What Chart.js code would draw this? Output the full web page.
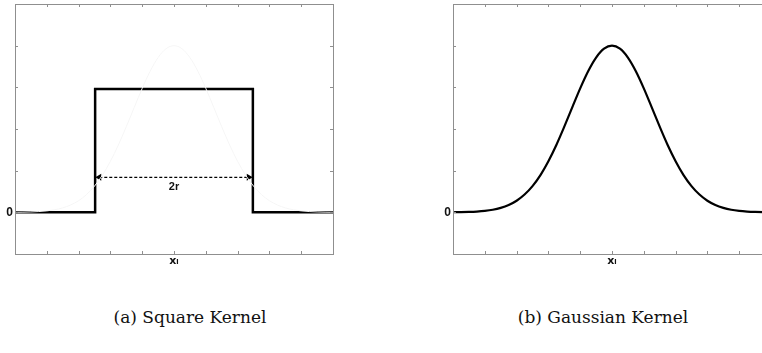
<!DOCTYPE html>
<html>
<head>
<meta charset="utf-8">
<script src="https://cdn.jsdelivr.net/npm/chart.js@4"></script>
<style>
  html, body { margin: 0; padding: 0; background: #fff; }
  body { width: 762px; height: 353px; position: relative; overflow: hidden; }
  .panel { position: absolute; top: 0; }
  .caption {
    position: absolute; top: 307px; width: 300px; text-align: center;
    font-family: "DejaVu Serif", "Liberation Serif", serif; font-size: 17px; color: #111;
  }
</style>
</head>
<body>
<div class="panel" style="left:0px"><canvas id="square" width="345" height="280"></canvas></div>
<div class="panel" style="left:440px"><canvas id="gauss" width="345" height="280"></canvas></div>
<div class="caption" style="left:40px">(a) Square Kernel</div>
<div class="caption" style="left:453px">(b) Gaussian Kernel</div>
<script>
// axis ticks (both panels)
const xTicks = [-5, -4, -3, -2, -1, 0, 1, 2, 3, 4, 5];
const yTicks = [-1, 0, 1, 2, 3, 4, 5];

// square kernel, width 2r
const squareX = [-5, -2.48, -2.48, 2.48, 2.48, 5];
const squareY = [0, 0, 2.96, 2.96, 0, 0];

// arrow marking 2r
const arrowX = [-2.35, 2.35];
const arrowY = [0.84, 0.84];

// gaussian kernel
const gaussX = [-5, -4.75, -4.5, -4.25, -4, -3.75, -3.5, -3.25, -3, -2.75, -2.5, -2.25, -2, -1.75, -1.5, -1.25, -1, -0.75, -0.5, -0.25,
  0, 0.25, 0.5, 0.75, 1, 1.25, 1.5, 1.75, 2, 2.25, 2.5, 2.75, 3, 3.25, 3.5, 3.75, 4, 4.25, 4.5, 4.75, 5];
const gaussY = [0.002, 0.005, 0.01, 0.019, 0.035, 0.062, 0.107, 0.176, 0.279, 0.427, 0.63, 0.894, 1.225, 1.616, 2.056, 2.519, 2.976, 3.387, 3.715, 3.927,
  4, 3.927, 3.715, 3.387, 2.976, 2.519, 2.056, 1.616, 1.225, 0.894, 0.63, 0.427, 0.279, 0.176, 0.107, 0.062, 0.035, 0.019, 0.01, 0.005, 0.002];

function pts(xs, ys) {
  return xs.map((x, i) => ({ x: x, y: ys[i] }));
}

const frameColor = '#8f8f8f';
const tickLen = 3;

const framePlugin = {
  id: 'frame',
  afterDraw(chart) {
    const ctx = chart.ctx;
    const a = chart.chartArea;
    const xs = chart.scales.x, ys = chart.scales.y;
    ctx.save();
    ctx.strokeStyle = frameColor;
    ctx.lineWidth = 1;
    ctx.strokeRect(Math.round(a.left) + 0.5, Math.round(a.top) + 0.5, Math.round(a.right - a.left), Math.round(a.bottom - a.top));
    ctx.beginPath();
    xTicks.forEach(v => {
      const px = Math.round(xs.getPixelForValue(v)) + 0.5;
      ctx.moveTo(px, a.top); ctx.lineTo(px, a.top + tickLen);
      ctx.moveTo(px, a.bottom); ctx.lineTo(px, a.bottom - tickLen);
    });
    yTicks.forEach(v => {
      const py = Math.round(ys.getPixelForValue(v)) + 0.5;
      ctx.moveTo(a.left, py); ctx.lineTo(a.left + tickLen, py);
      ctx.moveTo(a.right, py); ctx.lineTo(a.right - tickLen, py);
    });
    ctx.stroke();

    // "2r" label under the arrow
    if (chart.canvas.id === 'square') {
      ctx.fillStyle = '#111';
      ctx.font = 'bold 11px "Liberation Sans", Arial, sans-serif';
      ctx.textAlign = 'center';
      ctx.textBaseline = 'middle';
      ctx.fillText('2r', xs.getPixelForValue(0), ys.getPixelForValue(arrowY[0]) + 10);
    }
    ctx.restore();
  }
};

function noPad(s) {
  s.paddingTop = 0; s.paddingBottom = 0; s.paddingLeft = 0; s.paddingRight = 0;
}

function makeScales(yWidth) {
  return {
    x: {
      type: 'linear', min: -5, max: 5,
      grid: { display: false, drawTicks: false }, border: { display: false },
      afterBuildTicks(s) { s.ticks = xTicks.map(v => ({ value: v })); },
      afterFit(s) { s.height = 14; noPad(s); },
      ticks: {
        autoSkip: false, maxRotation: 0, padding: 1, color: '#111',
        font: { family: '"DejaVu Sans", sans-serif', size: 11, weight: 'bold' },
        callback: v => (v === 0 ? 'xᵢ' : '')
      }
    },
    y: {
      type: 'linear', min: -1, max: 5,
      grid: { display: false, drawTicks: false }, border: { display: false },
      afterBuildTicks(s) { s.ticks = yTicks.map(v => ({ value: v })); },
      afterFit(s) { s.width = yWidth; noPad(s); },
      ticks: {
        padding: 2, color: '#111',
        font: { family: '"Liberation Sans", Arial, sans-serif', size: 12, weight: 'bold' },
        callback: v => (v === 0 ? '0' : '')
      }
    }
  };
}

const common = {
  responsive: false,
  animation: false,
  devicePixelRatio: 1,
  plugins: { legend: { display: false }, tooltip: { enabled: false } },
  elements: { point: { radius: 0 } }
};

new Chart(document.getElementById('square'), {
  type: 'line',
  data: {
    datasets: [
      { data: pts(gaussX, gaussY), borderColor: '#f6f6f6', borderWidth: 1, tension: 0.4, cubicInterpolationMode: 'monotone' },
      { data: pts(squareX, squareY), borderColor: '#000', borderWidth: 2.5, tension: 0, borderJoinStyle: 'miter' },
      {
        data: pts(arrowX, arrowY), borderColor: '#000', borderWidth: 1.2, borderDash: [3, 2],
        pointStyle: 'triangle', pointRadius: 4, pointRotation: [-90, 90],
        pointBackgroundColor: '#000', pointBorderWidth: 0
      }
    ]
  },
  options: Object.assign({}, common, {
    layout: { padding: { top: 4, right: 12, left: 0, bottom: 12 } },
    scales: makeScales(15)
  }),
  plugins: [framePlugin]
});

new Chart(document.getElementById('gauss'), {
  type: 'line',
  data: {
    datasets: [
      { data: pts(gaussX, gaussY), borderColor: '#000', borderWidth: 2.2, tension: 0.4, cubicInterpolationMode: 'monotone' }
    ]
  },
  options: Object.assign({}, common, {
    layout: { padding: { top: 4, right: 14, left: 0, bottom: 12 } },
    scales: makeScales(13)
  }),
  plugins: [framePlugin]
});
</script>
</body>
</html>
